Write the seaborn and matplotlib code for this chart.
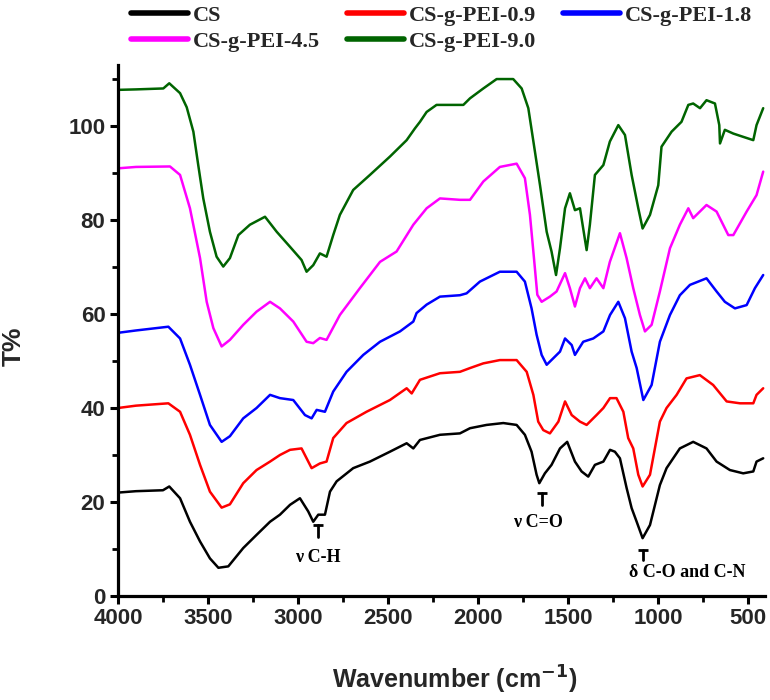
import pandas as pd
import matplotlib
matplotlib.use("Agg")
import matplotlib.pyplot as plt
from matplotlib.ticker import MultipleLocator
from matplotlib.lines import Line2D
import seaborn as sns

# FTIR spectra (wavenumber in cm-1, transmittance in %)
cs_wn = [4000, 3900, 3750, 3715, 3655, 3600, 3544, 3489, 3442, 3387,
         3304, 3230, 3155, 3100, 3044, 2989, 2943, 2915, 2887, 2850,
         2822, 2785, 2693, 2600, 2489, 2396, 2359, 2322, 2211, 2100,
         2044, 1952, 1859, 1785, 1739, 1702, 1674, 1659, 1628, 1591,
         1544, 1504, 1461, 1424, 1387, 1350, 1303, 1266, 1239, 1211,
         1174, 1146, 1118, 1085, 1044, 989, 952, 878, 804, 730,
         674, 600, 526, 470, 452, 415]
cs_t = [22.0, 22.3, 22.5, 23.3, 20.8, 15.8, 11.6, 8.0, 6.0, 6.3,
        10.2, 13.0, 15.8, 17.3, 19.4, 20.8, 18.0, 15.8, 17.3, 17.3,
        22.2, 24.4, 27.2, 28.6, 30.7, 32.5, 31.4, 33.2, 34.3, 34.6,
        35.7, 36.4, 36.8, 36.4, 34.3, 30.7, 25.8, 24.0, 26.1, 27.9,
        31.4, 32.8, 28.6, 26.5, 25.4, 27.9, 28.6, 31.1, 30.7, 29.3,
        23.0, 18.7, 15.8, 12.3, 15.1, 23.6, 27.2, 31.4, 32.8, 31.4,
        28.6, 26.8, 26.1, 26.5, 28.6, 29.3]

pei09_wn = [4000, 3900, 3720, 3655, 3600, 3544, 3489, 3424, 3378, 3304,
            3230, 3155, 3100, 3044, 2980, 2924, 2878, 2841, 2804, 2730,
            2619, 2489, 2396, 2368, 2322, 2211, 2100, 2044, 1970, 1878,
            1785, 1729, 1692, 1665, 1637, 1600, 1553, 1516, 1479, 1433,
            1396, 1341, 1303, 1266, 1230, 1192, 1165, 1137, 1109, 1085,
            1044, 989, 952, 896, 841, 767, 693, 618, 544, 470,
            452, 415]
pei09_t = [40.0, 40.5, 41.0, 39.2, 34.3, 27.9, 22.2, 18.8, 19.5, 24.0,
           26.8, 28.6, 30.0, 31.1, 31.4, 27.2, 28.2, 28.6, 33.6, 36.8,
           39.2, 41.7, 44.2, 43.1, 46.0, 47.4, 47.7, 48.5, 49.5, 50.2,
           50.2, 47.7, 42.8, 37.1, 35.3, 34.6, 37.1, 41.4, 38.5, 37.1,
           36.4, 38.5, 40.0, 42.1, 42.1, 39.2, 33.6, 31.4, 25.8, 23.3,
           25.8, 37.1, 40.0, 42.8, 46.3, 47.0, 44.9, 41.4, 41.0, 41.0,
           42.8, 44.2]

pei18_wn = [4000, 3900, 3720, 3655, 3600, 3544, 3489, 3424, 3378, 3304,
            3230, 3155, 3100, 3026, 2961, 2924, 2896, 2850, 2804, 2730,
            2637, 2544, 2433, 2359, 2341, 2285, 2211, 2100, 2063, 1989,
            1878, 1785, 1739, 1702, 1674, 1646, 1618, 1581, 1544, 1516,
            1479, 1461, 1415, 1359, 1303, 1266, 1220, 1183, 1146, 1118,
            1081, 1035, 989, 933, 878, 822, 730, 674, 628, 572,
            507, 461, 415]
pei18_t = [56.0, 56.5, 57.3, 54.8, 49.2, 42.8, 36.4, 32.8, 34.0, 37.8,
           40.0, 42.8, 42.1, 41.7, 38.5, 37.8, 39.6, 39.2, 43.5, 47.7,
           51.3, 54.1, 56.3, 58.4, 60.2, 62.0, 63.7, 64.0, 64.4, 66.9,
           69.0, 69.0, 66.9, 61.2, 55.6, 51.3, 49.2, 50.6, 52.0, 54.8,
           53.4, 51.3, 54.1, 54.8, 56.3, 59.8, 62.6, 59.1, 52.0, 48.5,
           41.7, 44.9, 54.1, 59.8, 64.0, 66.2, 67.6, 64.8, 62.6, 61.2,
           61.9, 65.5, 68.3]

pei45_wn = [4000, 3900, 3711, 3655, 3600, 3544, 3507, 3470, 3424, 3378,
            3304, 3230, 3155, 3100, 3026, 2952, 2915, 2878, 2841, 2767,
            2656, 2544, 2452, 2359, 2285, 2211, 2100, 2044, 1970, 1878,
            1785, 1739, 1711, 1692, 1670, 1646, 1600, 1563, 1516, 1489,
            1461, 1433, 1405, 1378, 1341, 1303, 1267, 1211, 1174, 1137,
            1100, 1072, 1035, 989, 933, 878, 831, 804, 730, 674,
            609, 581, 507, 452, 415]
pei45_t = [91.0, 91.3, 91.4, 89.6, 82.5, 71.9, 62.6, 57.0, 53.1, 54.5,
           57.7, 60.5, 62.6, 61.2, 58.4, 54.1, 53.8, 54.9, 54.5, 59.8,
           65.5, 71.1, 73.3, 79.0, 82.5, 84.6, 84.3, 84.3, 88.2, 91.3,
           92.0, 88.9, 81.1, 73.3, 64.1, 62.6, 63.7, 64.8, 68.7, 65.5,
           61.6, 65.5, 67.6, 65.5, 67.6, 65.5, 71.1, 77.2, 71.9, 65.5,
           59.8, 56.3, 57.7, 64.8, 74.0, 79.0, 82.5, 80.4, 83.2, 81.8,
           76.8, 76.8, 81.8, 85.3, 90.3]

pei90_wn = [4000, 3900, 3748, 3715, 3655, 3618, 3581, 3554, 3526, 3489,
            3452, 3415, 3378, 3331, 3267, 3183, 3118, 3044, 2980, 2952,
            2915, 2878, 2841, 2804, 2767, 2693, 2600, 2489, 2396, 2350,
            2322, 2285, 2230, 2155, 2081, 2044, 1970, 1896, 1804, 1757,
            1720, 1683, 1655, 1618, 1591, 1566, 1544, 1516, 1489, 1461,
            1433, 1396, 1378, 1350, 1303, 1267, 1220, 1183, 1146, 1109,
            1085, 1044, 998, 980, 924, 869, 831, 804, 766, 730,
            683, 659, 655, 628, 581, 526, 470, 452, 415]
pei90_t = [107.7, 107.8, 108.0, 109.1, 107.0, 104.0, 98.8, 91.7, 84.6, 77.5,
           72.2, 70.1, 71.9, 76.8, 79.0, 80.7, 77.5, 74.3, 71.5, 69.0,
           70.4, 72.9, 72.2, 76.8, 81.1, 86.4, 89.6, 93.5, 97.0, 99.5,
           100.9, 103.0, 104.5, 104.5, 104.5, 105.9, 108.0, 110.0, 110.0, 108.0,
           103.8, 94.5, 87.4, 77.5, 73.3, 68.3, 74.0, 82.5, 85.7, 82.1,
           82.5, 73.6, 79.0, 89.6, 91.7, 96.7, 100.2, 98.1, 89.6, 82.5,
           78.2, 81.1, 87.4, 95.6, 98.8, 100.9, 104.5, 104.8, 103.8, 105.5,
           104.8, 100.2, 96.3, 99.2, 98.4, 97.7, 97.0, 100.2, 103.8]

samples = ["CS", "CS-g-PEI-0.9", "CS-g-PEI-1.8", "CS-g-PEI-4.5", "CS-g-PEI-9.0"]
colors = ["#000000", "#ff0000", "#0000ff", "#ff00ff", "#006400"]

frames = []
for name, wn, t in zip(samples,
                       [cs_wn, pei09_wn, pei18_wn, pei45_wn, pei90_wn],
                       [cs_t, pei09_t, pei18_t, pei45_t, pei90_t]):
    frames.append(pd.DataFrame({"wavenumber": wn, "T": t, "sample": name}))
df = pd.concat(frames, ignore_index=True)

sns.set_theme(style="white")
plt.rcParams["font.family"] = ["Liberation Sans", "DejaVu Sans"]

fig = plt.figure(figsize=(7.7, 7.0), dpi=100)
ax = fig.add_axes([0.1532, 0.1486, 0.8403, 0.7586])

sns.lineplot(data=df, x="wavenumber", y="T", hue="sample", hue_order=samples,
             palette=colors, sort=False, estimator=None, linewidth=1.8,
             legend=False, ax=ax)

ax.set_xlim(4000, 405)
ax.set_ylim(0, 113)
ax.xaxis.set_major_locator(MultipleLocator(500))
ax.xaxis.set_minor_locator(MultipleLocator(250))
ax.set_yticks([0, 20, 40, 60, 80, 100])
ax.yaxis.set_minor_locator(MultipleLocator(10))

for side in ["top", "right"]:
    ax.spines[side].set_visible(False)
for side in ["left", "bottom"]:
    ax.spines[side].set_linewidth(2.3)
    ax.spines[side].set_color("black")

ax.tick_params(which="major", direction="out", length=6, width=2.2,
               color="black", labelsize=16, pad=3, bottom=True, left=True)
ax.tick_params(which="minor", direction="out", length=4, width=2.0,
               color="black", bottom=True, left=True)
for lab in ax.get_xticklabels() + ax.get_yticklabels():
    lab.set_fontweight("bold")

ax.set_xlabel("Wavenumber (cm$^{\\mathbf{-1}}$)", fontsize=18, fontweight="bold")
ax.set_ylabel("T%", fontsize=19, fontweight="bold")
ax.xaxis.set_label_coords(0.52, -0.128)
ax.yaxis.set_label_coords(-0.142, 0.47)

# band annotations
serif = ["Liberation Serif", "DejaVu Serif"]
marks = [(2889, 15.0, 12.5, "ν C-H", 2889, 8.2),
         (1644, 22.0, 19.4, "ν C=O", 1667, 15.7),
         (1083, 9.8, 7.6, "δ C-O and C-N", 839, 5.0)]
for mx, top, bot, label, tx, ty in marks:
    ax.plot([mx, mx], [top, bot], color="black", linewidth=2.0)
    ax.plot([mx], [top], marker="_", markersize=7, markeredgewidth=2.0, color="black")
    ax.text(tx, ty, label, ha="center", va="center", fontsize=13,
            fontweight="bold", family=serif, color="black")

# legend above the plot, column-major order to get the two rows of the original
handles = {name: Line2D([], [], color=c, linewidth=4) for name, c in zip(samples, colors)}
order = ["CS", "CS-g-PEI-4.5", "CS-g-PEI-0.9", "CS-g-PEI-9.0", "CS-g-PEI-1.8"]
fig.legend([handles[n] for n in order], order, ncol=3, loc="upper left",
           bbox_to_anchor=(0.158, 1.005), frameon=False,
           prop={"family": serif, "weight": "bold", "size": 16},
           handlelength=2.6, handletextpad=0.2, columnspacing=1.2,
           labelspacing=0.25, borderaxespad=0.0)

fig.savefig("out.png", dpi=100)
